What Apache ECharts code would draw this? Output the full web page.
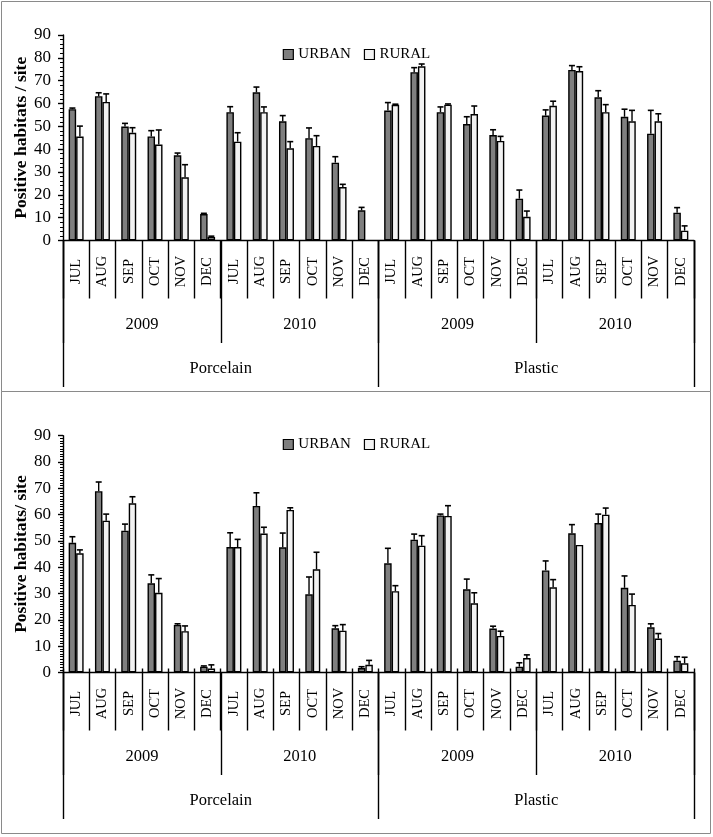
<!DOCTYPE html>
<html><head><meta charset="utf-8">
<script src="https://cdn.jsdelivr.net/npm/echarts@6/dist/echarts.min.js"></script>
<style>html,body{margin:0;padding:0;background:#fff}#c{width:713px;height:837px}</style>
</head><body><div id="c"></div>
<script>
const monthNames = ['JUL','AUG','SEP','OCT','NOV','DEC'];
const years = ['2009','2010'];
const materials = ['Porcelain','Plastic'];
const yTicks = [0,10,20,30,40,50,60,70,80,90];

// Top chart
const topUrban = [57.5,63.2,49.9,45.6,37.3,11.6, 56.2,64.9,52.2,44.8,34.1,13.2, 56.9,73.7,56.2,51.0,46.2,18.3, 54.7,74.7,62.7,54.2,46.8,12.2];
const topUrbanErr = [0.5,1.5,1.4,2.5,1.0,0.3, 2.4,2.3,2.5,4.5,2.6,1.3, 3.5,2.0,2.3,3.2,2.3,3.8, 2.5,1.9,2.9,3.3,10.2,2.2];
const topRural = [45.5,60.7,47.2,42.0,27.7,1.5, 43.3,56.2,40.4,41.4,23.4,0, 59.4,76.3,59.5,55.4,43.6,10.4, 59.0,74.2,56.2,52.2,52.2,4.3];
const topRuralErr = [4.6,3.5,2.2,6.4,5.5,0.4, 3.9,2.3,2.9,4.5,1.2,0, 0.3,1.0,0.3,3.5,2.0,2.5, 2.0,1.9,3.3,4.8,3.3,2.1];

// Bottom chart
const botUrban = [49.3,68.9,53.9,33.9,18.1,2.2, 47.7,63.3,47.6,29.7,16.8,1.7, 41.5,50.5,59.7,31.6,16.7,2.2, 38.8,52.9,56.8,32.2,17.2,4.5];
const botUrbanErr = [2.3,3.5,2.5,3.2,0.4,0.3, 5.4,5.0,5.4,6.6,1.0,0.5, 5.7,2.1,0.5,3.9,0.9,1.5, 3.6,3.3,3.4,4.5,1.3,1.5];
const botRural = [45.3,57.7,64.3,30.3,15.7,1.5, 47.7,52.8,61.8,39.2,15.9,2.9, 30.9,48.2,59.5,26.3,13.9,5.5, 32.4,48.5,60.0,25.7,12.9,3.5];
const botRuralErr = [1.3,2.5,2.5,5.4,2.0,1.4, 2.9,2.4,0.8,6.5,2.3,1.7, 2.1,3.8,3.9,4.0,1.8,1.2, 2.9,0,2.5,4.1,1.9,2.3];

const FONT = "'Liberation Serif','DejaVu Serif',serif";
const monthCats = [];
materials.forEach(m => years.forEach(y => monthNames.forEach(mo => monthCats.push(m + '|' + y + '|' + mo))));
const yearCats = [];
materials.forEach(m => years.forEach(y => yearCats.push(m + '|' + y)));

const BAR_FRAC = 0.57;
const grids = [];
const xAxes = [];
const yAxes = [];
const series = [];

function addLayer(rect, xCfg, yCfg) {
  grids.push(Object.assign({outerBoundsMode: 'none', containLabel: false}, rect));
  const gi = grids.length - 1;
  xAxes.push(Object.assign({gridIndex: gi, type: 'category'}, xCfg));
  yAxes.push(Object.assign({gridIndex: gi, type: 'value', min: 0, max: 90, interval: 10}, yCfg));
  return gi;
}

const blackLine = {color: '#000', width: 1.4};

function buildChart(rect, yName, minorSplit, crossTicks, urban, urbanErr, rural, ruralErr) {
  const hiddenY = {show: false};
  const gMain = addLayer(rect, {
    data: monthCats,
    axisLine: {show: true, lineStyle: blackLine},
    axisTick: {show: true, interval: 0, length: 58, lineStyle: blackLine},
    axisLabel: {interval: 0, rotate: 90, align: 'center', verticalAlign: 'middle', margin: 31,
      fontFamily: FONT, fontSize: 14.5, color: '#000', formatter: v => v.split('|')[2]},
    splitLine: {show: false}
  }, {
    name: yName, nameLocation: 'middle', nameGap: 33, nameRotate: 90, nameMoveOverlap: false,
    nameTextStyle: {fontFamily: FONT, fontWeight: 'bold', fontSize: 17.5, color: '#000'},
    axisLine: {show: true, lineStyle: blackLine},
    axisTick: {show: true, length: 5, lineStyle: blackLine},
    minorTick: {show: true, splitNumber: minorSplit, length: 3, lineStyle: {color: '#000', width: 1}},
    axisLabel: {fontFamily: FONT, fontSize: 17, color: '#000', margin: 12,
      formatter: v => yTicks.includes(v) ? String(v) : ''},
    splitLine: {show: false}
  });
  addLayer(rect, {
    data: yearCats,
    axisLine: {show: false},
    axisTick: {show: true, interval: 0, length: 102.5, lineStyle: blackLine},
    axisLabel: {interval: 0, verticalAlign: 'middle', margin: 84, fontFamily: FONT, fontSize: 16.5, color: '#000',
      formatter: v => v.split('|')[1]},
    splitLine: {show: false}
  }, hiddenY);
  addLayer(rect, {
    data: materials,
    axisLine: {show: false},
    axisTick: {show: true, interval: 0, length: 146.5, lineStyle: blackLine},
    axisLabel: {interval: 0, verticalAlign: 'middle', margin: 128, fontFamily: FONT, fontSize: 16.5, color: '#000'},
    splitLine: {show: false}
  }, hiddenY);
  if (crossTicks) {
    addLayer(rect, {
      data: monthCats,
      axisLine: {show: false},
      axisTick: {show: true, inside: true, interval: 0, length: 4, lineStyle: blackLine},
      axisLabel: {show: false},
      splitLine: {show: false}
    }, hiddenY);
  }
  const mk = (name, vals, color) => ({
    type: 'bar', name, xAxisIndex: gMain, yAxisIndex: gMain,
    data: vals.map(v => v === 0 ? '-' : v),
    barGap: '0%', barCategoryGap: '43%',
    itemStyle: {color, borderColor: '#000', borderWidth: 1.4},
    emphasis: {disabled: true}
  });
  series.push(mk('URBAN', urban, '#7f7f7f'));
  series.push(mk('RURAL', rural, '#f2f2f2'));
  const mkErr = (name, vals, errs, side) => ({
    type: 'custom', name, xAxisIndex: gMain, yAxisIndex: gMain, z: 5,
    data: vals.map((v, i) => [i, v, errs[i]]),
    encode: {x: 0, y: 1},
    renderItem: (params, api) => {
      const i = api.value(0), v = api.value(1), e = api.value(2);
      if (!(e > 0) || !(v > 0)) return null;
      const catW = api.size([1, 0])[0];
      const off = side * catW * BAR_FRAC / 4;
      const base = api.coord([i, v]);
      const top = api.coord([i, v + e]);
      const x = base[0] + off;
      const cap = 3;
      return {type: 'group', children: [
        {type: 'line', shape: {x1: x, y1: base[1], x2: x, y2: top[1]}, style: {stroke: '#000', lineWidth: 1.4}},
        {type: 'line', shape: {x1: x - cap, y1: top[1], x2: x + cap, y2: top[1]}, style: {stroke: '#000', lineWidth: 1.6}}
      ]};
    }
  });
  series.push(mkErr('URBAN err', urban, urbanErr, -1));
  series.push(mkErr('RURAL err', rural, ruralErr, 1));
}

buildChart({left: 63, top: 35, width: 631, height: 205.5}, 'Positive habitats / site', 5, false,
  topUrban, topUrbanErr, topRural, topRuralErr);
buildChart({left: 63, top: 435.7, width: 631, height: 236.8}, 'Positive habitats/ site', 10, true,
  botUrban, botUrbanErr, botRural, botRuralErr);

const legendBase = {
  data: ['URBAN', 'RURAL'], left: 'center', icon: 'rect', itemWidth: 10, itemHeight: 10, itemGap: 13,
  textStyle: {fontFamily: FONT, fontSize: 15, color: '#000'}, selectedMode: false,
  itemStyle: {borderColor: '#000', borderWidth: 1.2}
};

const chart = echarts.init(document.getElementById('c'), null, {renderer: 'canvas'});
chart.setOption({
  animation: false,
  backgroundColor: '#fff',
  grid: grids,
  xAxis: xAxes,
  yAxis: yAxes,
  legend: [Object.assign({top: 42}, legendBase), Object.assign({top: 432}, legendBase)],
  series: series,
  graphic: [
    {type: 'rect', shape: {x: 1.5, y: 1.5, width: 709, height: 390}, style: {fill: 'none', stroke: '#8a8a8a', lineWidth: 1}, silent: true},
    {type: 'rect', shape: {x: 1.5, y: 391.5, width: 709, height: 442}, style: {fill: 'none', stroke: '#8a8a8a', lineWidth: 1}, silent: true}
  ]
});
</script>
</body></html>
